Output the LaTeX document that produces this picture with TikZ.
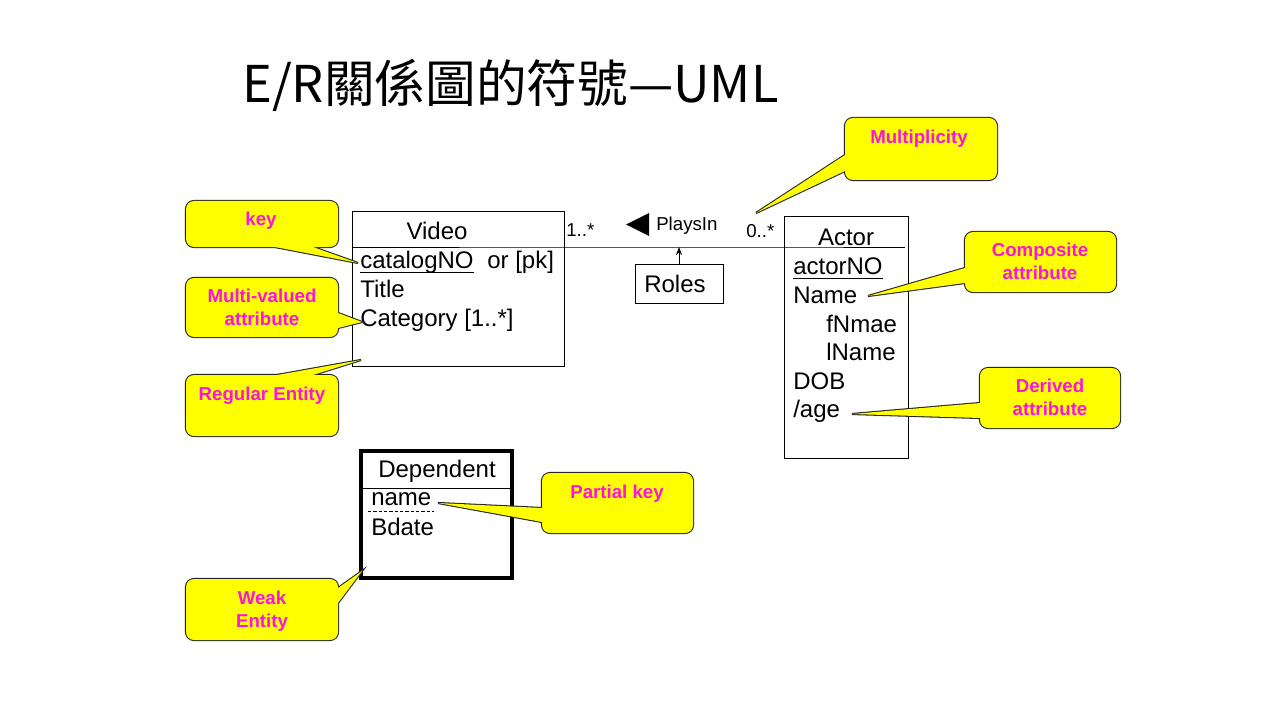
\documentclass[tikz,border=0pt]{standalone}
\usepackage{fontspec}
\setmainfont{Liberation Sans}
\newfontfamily\cjk{Noto Sans CJK TC}
\usetikzlibrary{arrows.meta,calc}
\definecolor{calloutyellow}{RGB}{255,255,0}
\definecolor{calloutpink}{RGB}{250,20,220}
\newcommand\mycallout[3]{%
  \draw[coedge, rounded corners=6pt] #1 rectangle #2;
  \draw[coedge, line join=miter] #3;
  \fill[calloutyellow, rounded corners=6pt] #1 rectangle #2;
  \fill[calloutyellow] #3 -- cycle;
}
\tikzset{
  coedge/.style={draw=black!85, line width=1.6pt},
  body/.style={font=\fontsize{18}{21.6}\selectfont, inner sep=0pt, anchor=base west},
  smalltxt/.style={font=\fontsize{14}{16.8}\selectfont, inner sep=0pt, anchor=base west},
  cotext/.style={font=\bfseries\fontsize{14}{17.25}\selectfont, text=calloutpink, align=center, inner sep=0pt, anchor=north},
  entbox/.style={draw, line width=0.75pt, inner sep=0pt},
  thinline/.style={line width=0.75pt},
}
\begin{document}
\begin{tikzpicture}[x=0.75pt,y=-0.75pt]
\useasboundingbox[fill=white] (0,0) rectangle (1280,720);

% title
\node[font=\cjk\fontsize{38}{46}\selectfont, inner sep=0pt, anchor=base west] (title) at (242,103) {E/R關係圖的符號—UML};

% entity boxes
\node[entbox, minimum width=159pt, minimum height=115.5pt] (video) at (458,289) {};
\node[entbox, minimum width=93pt, minimum height=180.75pt] (actor) at (846,337.5) {};
\node[entbox, minimum width=66pt, minimum height=29.25pt] (roles) at (679,283.5) {};
\node[draw, line width=2.5pt, inner sep=0pt, minimum width=113.25pt, minimum height=95.25pt] (dep) at (436.5,514.5) {};

% header lines and association
\coordinate (vhl) at (352,247);
\coordinate (ahr) at (905,247);
\draw[thinline] (vhl) -- (video.east |- vhl) -- (actor.west |- vhl) -- (ahr);
\coordinate (dhl) at (361,488);
\draw[thinline] (dhl) -- (dep.east |- dhl);
\draw[thinline, -{Stealth[length=6pt,width=4.5pt]}] (roles.north) -- (roles.north |- vhl);

% association labels
\node[smalltxt] (m1) at (566,237) {1..*};
\node[smalltxt] (playsin) at (656,231) {PlaysIn};
\node[smalltxt] (m2) at (746,238) {0..*};
\fill (649,213) -- (626,224.5) -- (649,236) -- cycle;
\node[body] (rolestxt) at (644,292) {Roles};

% Video
\node[body, anchor=base] (vname) at (437,239) {Video};
\node[body] (catno) at (360,268) {catalogNO};
\node[body] (orpk) at (487,268) {or [pk]};
\draw[thinline] ($(catno.base west)+(0,4)$) -- ($(catno.base east)+(0,4)$);
\node[body] (vtitle) at (360,297) {Title};
\node[body] (vcat) at (360,326) {Category [1..*]};

% Actor
\node[body, anchor=base] (aname) at (846,245) {Actor};
\node[body] (actorno) at (793,274) {actorNO};
\draw[thinline] ($(actorno.base west)+(0,4)$) -- ($(actorno.base east)+(0,4)$);
\node[body] (aName) at (793,303) {Name};
\node[body] (fname) at (826,332) {fNmae};
\node[body] (lname) at (826,360) {lName};
\node[body] (dob) at (793,389) {DOB};
\node[body] (age) at (793,417) {/age};

% Dependent
\node[body, anchor=base] (dname) at (437,477) {Dependent};
\node[body] (pname) at (371,505) {name};
\draw[line width=0.6pt, dash pattern=on 2.5pt off 1.5pt] ($(pname.base west)+(-3,6)$) -- ($(pname.base east)+(2,6)$);
\node[body] (bdate) at (371,535) {Bdate};

% callouts
\mycallout{(186,201)}{(338,247)}{(275,247) -- (358,263) -- (313,247)}
\node[cotext] (ckey) at (261,212) {key};

\mycallout{(845,118)}{(997,180)}{(845,155) -- (756,213) -- (845,171)}
\node[cotext] (cmult) at (919,130) {Multiplicity};

\mycallout{(186,278)}{(338,337)}{(338,313) -- (362,322) -- (338,328)}
\node[cotext] (cmv) at (262,289) {Multi-valued\\attribute};

\mycallout{(186,375)}{(338,436)}{(277,375) -- (361,360) -- (313,375)}
\node[cotext] (creg) at (262,387) {Regular Entity};

\mycallout{(965,232)}{(1116,292)}{(965,268) -- (868,296) -- (965,283)}
\node[cotext] (ccomp) at (1040,243) {Composite\\attribute};

\mycallout{(980,368)}{(1120,428)}{(980,403) -- (852,414) -- (980,418)}
\node[cotext] (cder) at (1050,379) {Derived\\attribute};

\mycallout{(542,473)}{(693,533)}{(542,508) -- (438,503) -- (542,522)}
\node[cotext] (cpart) at (617,485) {Partial key};

\mycallout{(186,579)}{(338,640)}{(338,588) -- (362,571) -- (338,603)}
\node[cotext] (cweak) at (262,591) {Weak\\Entity};
\end{tikzpicture}
\end{document}
